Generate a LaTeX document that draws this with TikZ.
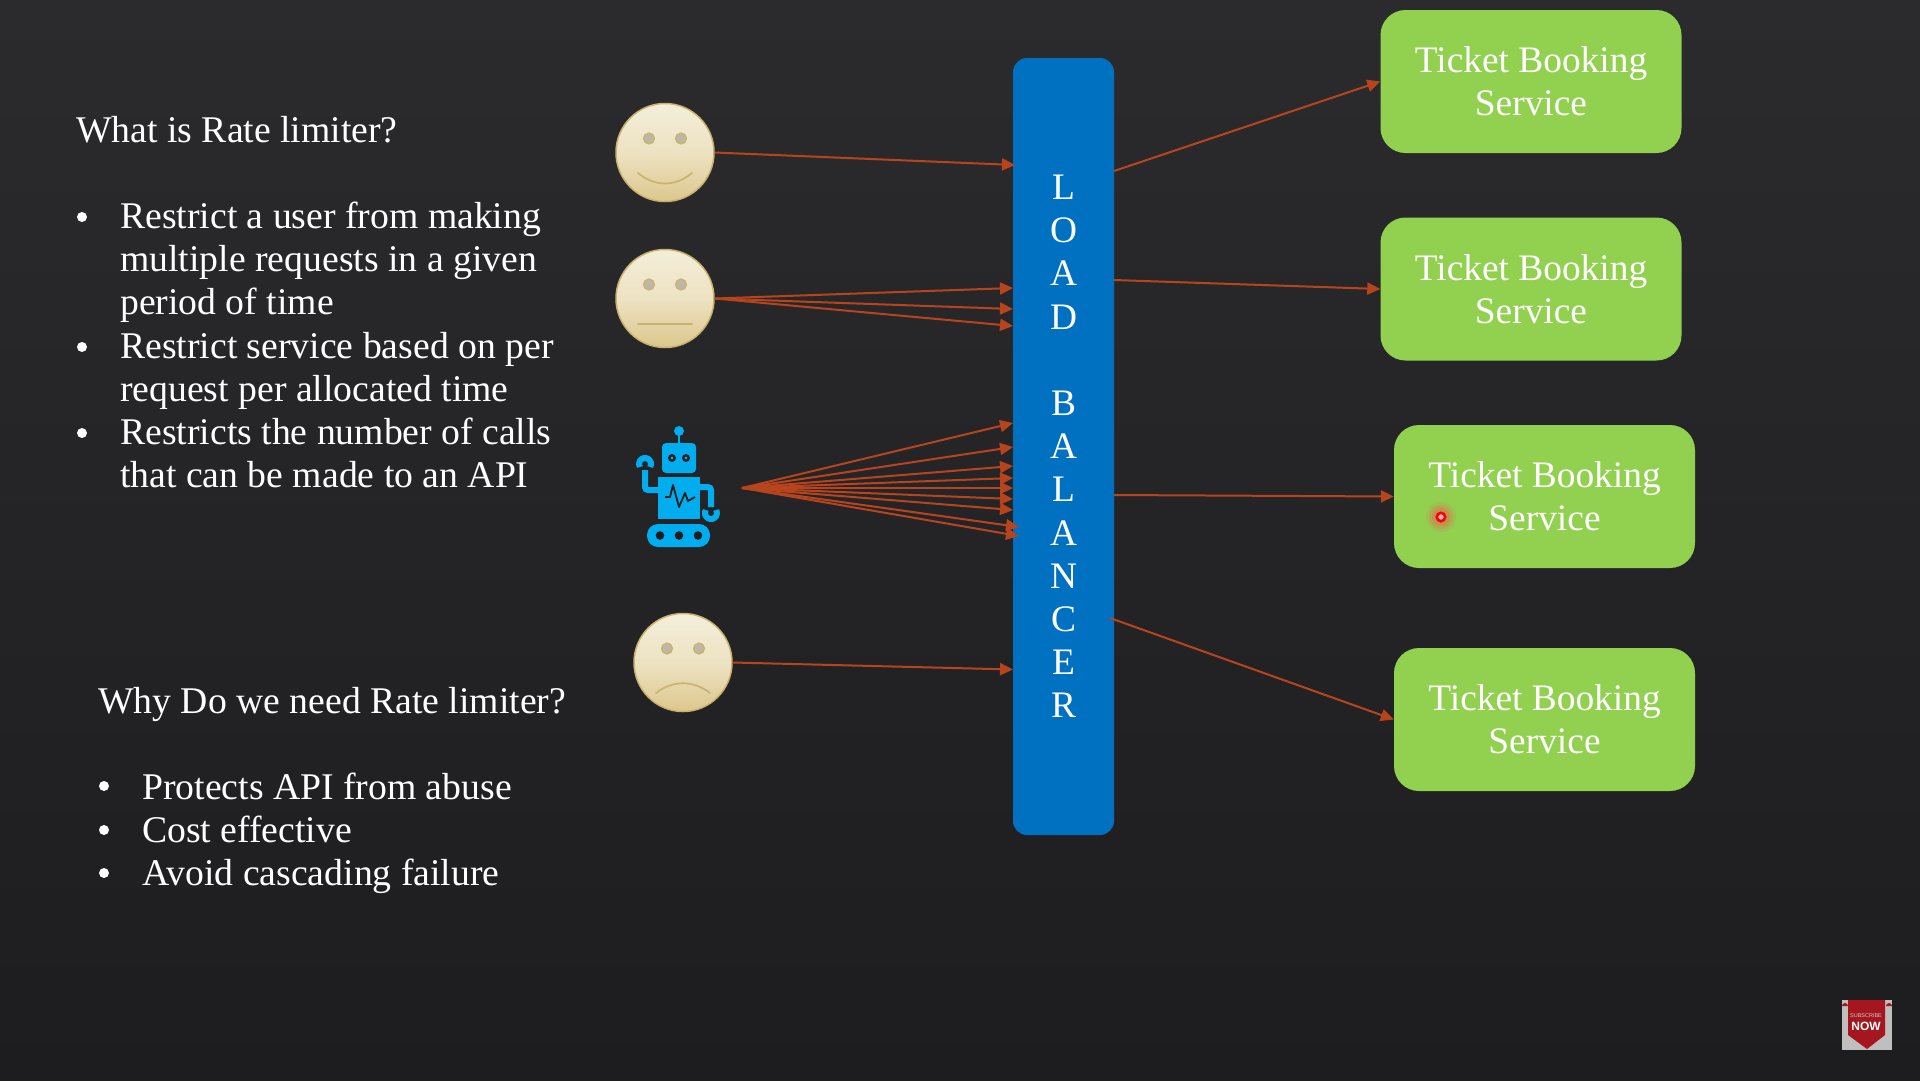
\documentclass[tikz,border=0pt]{standalone}
\usepackage{fontspec}
\setmainfont{Liberation Serif}
\setsansfont{Liberation Sans}
\usetikzlibrary{arrows.meta,calc}
\definecolor{slidetop}{HTML}{2B2B2E}
\definecolor{slidebot}{HTML}{1D1D1F}
\definecolor{lbblue}{HTML}{0070C0}
\definecolor{svcgreen}{HTML}{92D050}
\definecolor{reqred}{HTML}{B8441E}
\definecolor{botblue}{HTML}{00AEEF}
\definecolor{facetop}{HTML}{F4EEDA}
\definecolor{facebot}{HTML}{DCC78C}
\definecolor{facerim}{HTML}{C8B26E}
\definecolor{eyegrey}{HTML}{BDB8A4}
\definecolor{badgered}{HTML}{A5161E}
\tikzset{
  body/.style={font=\fontsize{37.7}{43.2}\selectfont, text=white, inner sep=0pt, align=left, anchor=base west},
  dot/.style={circle, fill=white, inner sep=0pt, minimum size=10},
  face/.style={circle, draw=facerim, line width=1.5, top color=facetop, bottom color=facebot, middle color=facetop!70!facebot, inner sep=0pt, minimum size=98},
  eye/.style={fill=eyegrey, draw=facerim, line width=1.2},
  mouth/.style={draw=facerim, line width=1.6, line cap=round},
  service/.style={rectangle, rounded corners=25, fill=svcgreen, text=white, font=\fontsize{37.4}{43.2}\selectfont, align=center, inner sep=0pt, minimum width=301, minimum height=143},
  req/.style={draw=reqred, line width=2, -{Triangle[length=13,width=12]}},
  botpart/.style={fill=botblue},
  botline/.style={draw=botblue, line width=6},
}
\begin{document}
\begin{tikzpicture}[x=1pt,y=-1pt]
\useasboundingbox (0,0) rectangle (1920,1080);
\fill[top color=slidetop, bottom color=slidebot] (0,0) rectangle (1920,1080);
% left column
\node[body] (whatis) at (76,142) {What is Rate limiter?};
\node[body] (wline1) at (120,228) {Restrict a user from making};
\node[body] (wline2) at (120,271) {multiple requests in a given};
\node[body] (wline3) at (120,314) {period of time};
\node[body] (wline4) at (120,358) {Restrict service based on per};
\node[body] (wline5) at (120,401) {request per allocated time};
\node[body] (wline6) at (120,444) {Restricts the number of calls};
\node[body] (wline7) at (120,487) {that can be made to an API};
\node[body] (whyis) at (98,713) {Why Do we need Rate limiter?};
\node[body] (yline1) at (142,799) {Protects API from abuse};
\node[body] (yline2) at (142,842) {Cost effective};
\node[body] (yline3) at (142,885) {Avoid cascading failure};
\foreach \i/\x/\y in {1/82/217,2/82/347,3/82/433,4/104/786,5/104/830,6/104/873}
  \node[dot] (bullet\i) at (\x,\y) {};
% load balancer
\node[rectangle, rounded corners=14, fill=lbblue, text=white, font=\fontsize{37.4}{43.2}\selectfont, align=center, inner sep=0pt, minimum width=101, minimum height=777] (lb) at (1063.5,446.5)
  {L\\O\\A\\D\\[43.2pt]B\\A\\L\\A\\N\\C\\E\\R};
% services
\node[service] (svc1) at (1531,81.5) {Ticket Booking\\Service};
\node[service] (svc2) at (1531,289) {Ticket Booking\\Service};
\node[service] (svc3) at (1544.5,496.5) {Ticket Booking\\Service};
\node[service] (svc4) at (1544.5,719.5) {Ticket Booking\\Service};
% faces
\node[face] (smile) at (665,152.5) {};
\node[face] (plain) at (665,298.5) {};
\node[face] (sad) at (683,662.5) {};
\foreach \f in {smile,plain,sad} {
  \path[eye] ($(\f)+(-16,-14)$) circle (5.5);
  \path[eye] ($(\f)+(16,-14)$) circle (5.5);
}
\path[mouth] (638,173) .. controls (655,187) and (675,187) .. (692,173);
\path[mouth] (638,324) -- (692,324);
\path[mouth] (656,693) .. controls (673,680) and (693,680) .. (710,693);
% robot
\fill[botpart, rounded corners=4] (662,443) rectangle (696,473);
\fill[botpart] (679,431) circle (5);
\draw[botline, line width=2.5] (679,431) -- (679,443);
\fill[slidebot] (672,458) circle (4) (686,458) circle (4);
\fill[botblue] (672,458) circle (1.6) (686,458) circle (1.6);
\fill[botpart] (658,477) rectangle (700,519);
\draw[slidebot, line width=1.8, line join=round] (665,497) -- (670,497) -- (673,485) -- (679,507) -- (685,493) -- (688,501) -- (695,497);
\draw[botline, rounded corners=3] (658,490) -- (645,490) -- (645,470);
\draw[botline] (645,464) ++(-30:6pt) arc[start angle=-30, end angle=210, radius=6pt];
\draw[botline, rounded corners=3] (700,487) -- (711,487) -- (711,507);
\draw[botline] (711,513) ++(150:6pt) arc[start angle=150, end angle=390, radius=6pt];
\fill[botpart, rounded corners=11] (647,524) rectangle (710,547);
\foreach \x in {660,679,698}
  \fill[slidebot] (\x,535.5) circle (4.3);
% request ends on the balancer
\foreach \n/\x/\y in {a/1015/165,b/1013/288,c/1013/309,d/1013/326,e/1013/423,f/1013/447,g/1013/466,h/1013/478,i/1013/488,j/1013/499,k/1013/510,l/1019/527,m/1019/536,n/1013/669.5}
  \coordinate (in\n) at (\x,\y);
\coordinate (botout) at (742,488);
\draw[req] (smile.east) -- (ina);
\foreach \n in {b,c,d}
  \draw[req] (plain.east) -- (in\n);
\foreach \n in {e,f,g,h,i,j,k,l,m}
  \draw[req] (botout) -- (in\n);
\draw[req] (sad.east) -- (inn);
\coordinate (out1) at (1114,171);
\coordinate (out2) at (1114,280);
\coordinate (out3) at (1114,495);
\coordinate (out4) at (1110,618);
\draw[req] (out1) -- (svc1.west);
\draw[req] (out2) -- (svc2.west);
\draw[req] (out3) -- (svc3.west);
\draw[req] (out4) -- (svc4.west);
% pointer
\foreach \r/\o in {15/0.12,12/0.18,9/0.25}
  \fill[red!70!white, opacity=\o] (1441,517) circle (\r);
\draw[red, line width=2.6, fill=red!25!white] (1441,517) circle (4.2);
% badge
\fill[black!25!white] (1842,1000) rectangle (1892,1050);
\fill[badgered] (1848,1000) -- (1885,1000) -- (1885,1035) -- (1867,1049) -- (1848,1035) -- cycle;
\fill[badgered] (1842,1006) arc[start angle=180, end angle=0, radius=3pt] -- cycle;
\fill[badgered] (1886,1006) arc[start angle=180, end angle=0, radius=3pt] -- cycle;
\node[font=\sffamily\fontsize{5.5}{6}\selectfont, text=black!20!white, inner sep=0pt] (subword) at (1866,1016) {SUBSCRIBE};
\node[font=\sffamily\bfseries\fontsize{12}{13}\selectfont, text=white, inner sep=0pt] (nowword) at (1866,1026) {NOW};
\end{tikzpicture}
\end{document}
